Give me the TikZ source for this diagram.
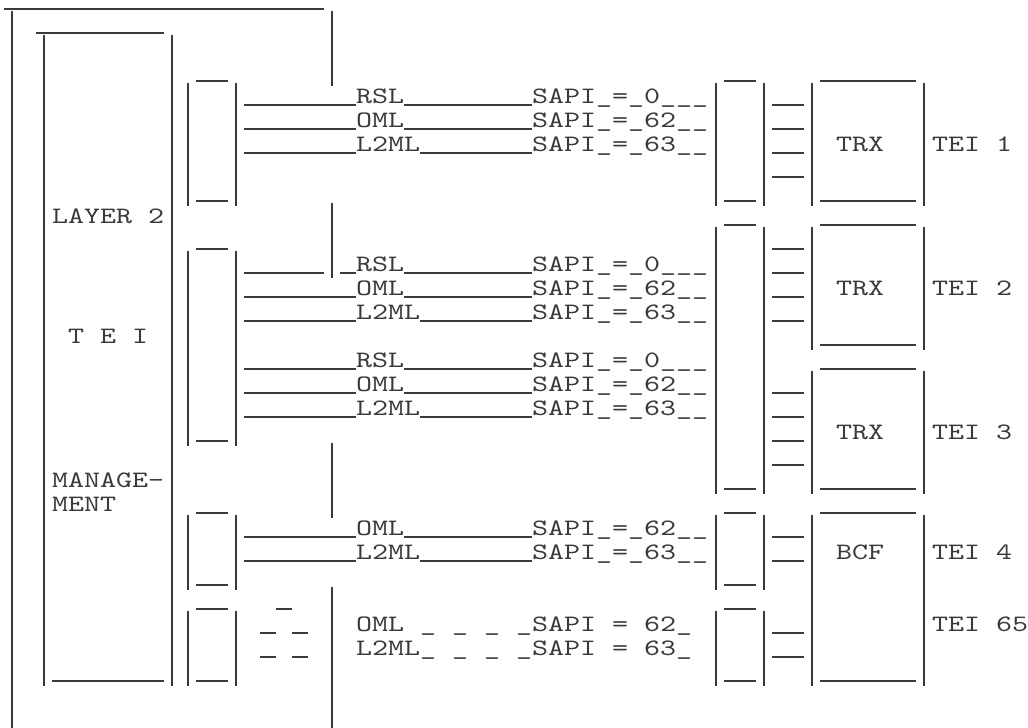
\documentclass[tikz,border=0pt]{standalone}
\usepackage{fontspec}
\setmonofont{lmmono10-regular.otf}[FakeStretch=1.297]
\definecolor{ink}{HTML}{3A3A3A}

\begin{document}
\begin{tikzpicture}[x=16pt, y=-24pt,
    vbar/.style={draw=ink, line width=1.8pt},
    hrule/.style={draw=ink, line width=1.3pt},
    lbl/.style={font=\ttfamily\fontsize{23.5}{24}\selectfont, text=ink, anchor=base west, inner sep=0pt}
  ]
  \useasboundingbox (-0.25,-0.375) rectangle (64,29.958);

  % vertical strokes: column / first row / last row
  \foreach \c/\a/\b in {0/1/29.75, 2/2/28, 10/2/28, 20/1/3, 20/9/11, 20/19/21, 20/25/29.75,
      11/4/8, 14/4/8, 11/11/18, 14/11/18, 11/22/24, 14/22/24, 11/26/28, 14/26/28,
      44/4/8, 47/4/8, 44/10/20, 47/10/20, 44/22/24, 47/22/24, 44/26/28, 47/26/28,
      50/4/8, 57/4/8, 50/10/14, 57/10/14, 50/16/20, 57/16/20, 50/22/28, 57/22/28}
    \draw[vbar] (\c+0.5,\a-0.92) -- (\c+0.5,\b+0.2);

  % horizontal strokes: row / first column / last column
  \foreach \k/\p/\q in {0/0/19, 1/2/9, 28/3/9,
      3/12/13, 8/12/13, 10/12/13, 18/12/13, 21/12/13, 24/12/13, 25/12/13, 28/12/13,
      3/45/46, 8/45/46, 9/45/46, 20/45/46, 21/45/46, 24/45/46, 25/45/46, 28/45/46,
      3/51/56, 8/51/56, 9/51/56, 14/51/56, 15/51/56, 20/51/56, 21/51/56, 28/51/56,
      4/48/49, 5/48/49, 6/48/49, 7/48/49, 10/48/49, 11/48/49, 12/48/49, 13/48/49,
      16/48/49, 17/48/49, 18/48/49, 19/48/49, 22/48/49, 23/48/49, 26/48/49, 27/48/49,
      25/17/17, 26/16/16, 26/18/18, 27/16/16, 27/18/18}
    \draw[hrule] (\p,\k) -- (\q+1,\k);

  % channels
  \foreach \k/\t/\v in {4/RSL/0\_\_\_, 5/OML/62\_\_, 6/L2ML/63\_\_,
      11/RSL/0\_\_\_, 12/OML/62\_\_, 13/L2ML/63\_\_,
      15/RSL/0\_\_\_, 16/OML/62\_\_, 17/L2ML/63\_\_,
      22/OML/62\_\_, 23/L2ML/63\_\_} {
    \node[lbl] (ch\k) at (22,\k-0.08) {\t};
    \node[lbl] (sapi\k) at (33,\k-0.08) {SAPI\_=\_\v};
    \coordinate (in\k) at (15,\k);
    \draw[hrule] (in\k -| ch\k.east) -- (in\k -| sapi\k.west);
  }
  \foreach \k in {4,5,6,12,13,15,16,17,22,23}
    \draw[hrule] (in\k) -- (in\k -| ch\k.west);
  \coordinate (cut11) at (20,11);
  \coordinate (tail11) at (21,11);
  \draw[hrule] (in11) -- (cut11);
  \draw[hrule] (tail11) -- (tail11 -| ch11.west);

  \node[lbl] (oml26) at (22,25.92) {OML \_ \_ \_ \_SAPI = 62\_};
  \node[lbl] (l2ml27) at (22,26.92) {L2ML\_ \_ \_ \_SAPI = 63\_};

  \node[lbl] (layer) at (3,8.92) {LAYER 2};
  \node[lbl] (tei) at (4,13.92) {T E I};
  \node[lbl] (manage) at (3,19.92) {MANAGE-};
  \node[lbl] (ment) at (3,20.92) {MENT};

  \node[lbl] (trx1) at (52,5.92) {TRX};
  \node[lbl] (trx2) at (52,11.92) {TRX};
  \node[lbl] (trx3) at (52,17.92) {TRX};
  \node[lbl] (bcf) at (52,22.92) {BCF};

  \node[lbl] (tei1) at (58,5.92) {TEI 1};
  \node[lbl] (tei2) at (58,11.92) {TEI 2};
  \node[lbl] (tei3) at (58,17.92) {TEI 3};
  \node[lbl] (tei4) at (58,22.92) {TEI 4};
  \node[lbl] (tei65) at (58,25.92) {TEI 65};
\end{tikzpicture}
\end{document}
